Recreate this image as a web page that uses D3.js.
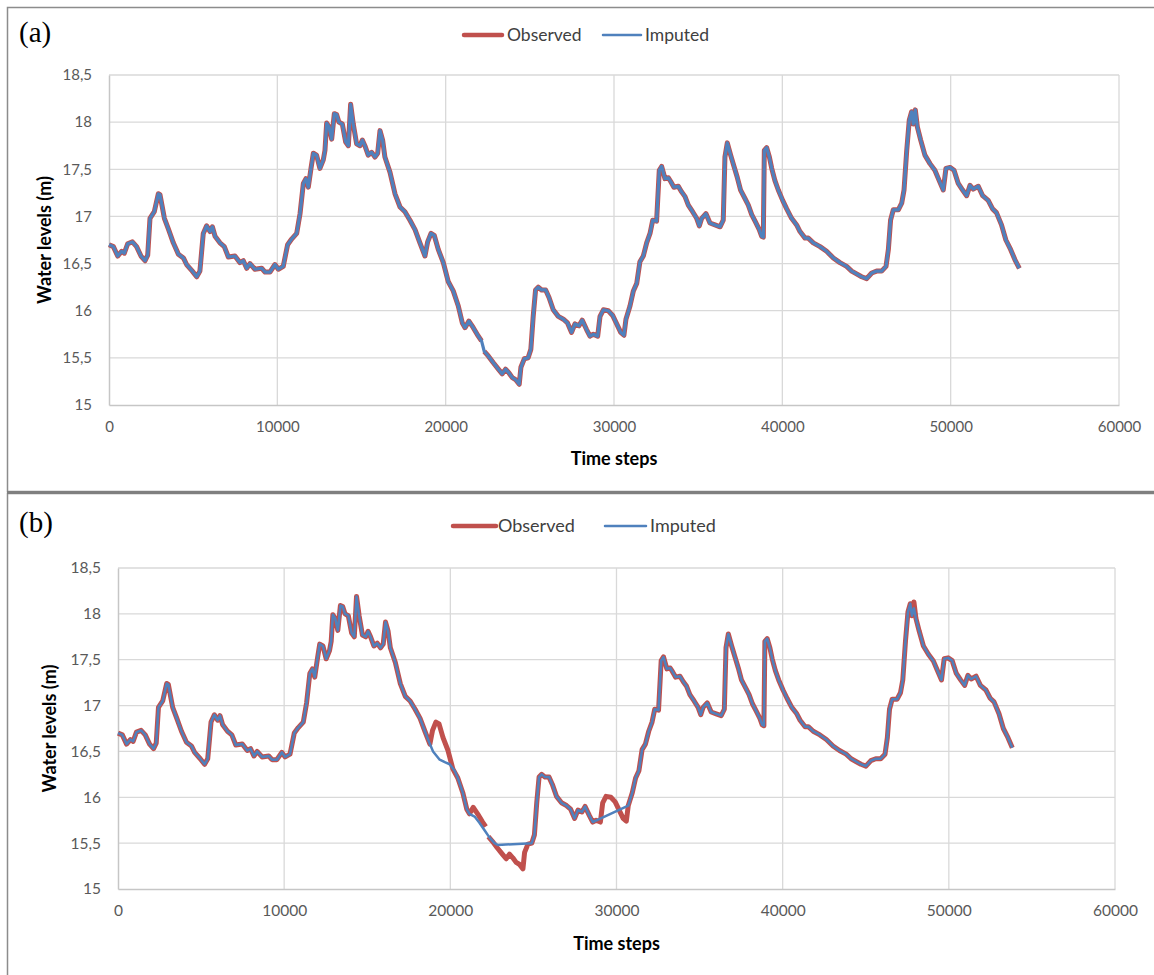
<!DOCTYPE html>
<html>
<head>
<meta charset="utf-8">
<script src="https://cdn.jsdelivr.net/npm/d3@7"></script>
<style>
  body { margin: 0; background: #fff; }
  .tick text { font-family: Lato, "Open Sans", sans-serif; fill: #595959; }
  .axisTitle { font-family: Lato, "Open Sans", sans-serif; font-weight: bold; fill: #000; }
  .legendText { font-family: Lato, "Open Sans", sans-serif; fill: #404040; }
  .panelTag { font-family: "Liberation Serif", "DejaVu Serif", serif; fill: #000; }
</style>
</head>
<body>
<div id="chart"></div>
<script>
// Water level series (time step, metres)
var steps = [0, 260, 515, 750, 910, 1110, 1390, 1640, 1900, 2140, 2300, 2435, 2690, 2930, 3030, 3290, 3520, 3820, 4120, 4420,
  4610, 4950, 5210, 5400, 5600, 5800, 6000, 6140, 6300, 6590, 6850, 7090, 7480, 7780, 7980, 8180, 8375, 8670, 9070, 9270,
  9560, 9860, 10060, 10350, 10610, 10850, 11150, 11350, 11545, 11700, 11840, 12000, 12140, 12330, 12530, 12730, 12830, 12930, 13070, 13230,
  13385, 13520, 13660, 13860, 14060, 14220, 14355, 14510, 14710, 14910, 15050, 15200, 15400, 15600, 15800, 15960, 16100, 16255, 16390, 16690,
  16990, 17290, 17580, 17880, 18180, 18470, 18770, 18930, 19130, 19320, 19560, 19860, 20150, 20450, 20750, 20990, 21150, 21380, 21640, 21940,
  22130, 22210, 22290, 22530, 22820, 23130, 23360, 23560, 23760, 23960, 24150, 24370, 24470, 24670, 24900, 25060, 25200, 25340, 25500, 25700,
  25940, 26140, 26390, 26690, 26990, 27240, 27480, 27680, 27920, 28110, 28370, 28570, 28770, 29030, 29170, 29370, 29660, 29920, 30160, 30400,
  30590, 30710, 30950, 31150, 31350, 31540, 31740, 31940, 32140, 32300, 32530, 32690, 32830, 33030, 33230, 33370, 33560, 33820, 34020, 34220,
  34415, 34670, 34910, 35070, 35210, 35460, 35700, 36000, 36300, 36490, 36590, 36730, 36930, 37130, 37330, 37520, 37780, 37980, 38180, 38380,
  38630, 38770, 38870, 38930, 39070, 39230, 39370, 39560, 39760, 40020, 40260, 40550, 40850, 41050, 41350, 41540, 41840, 42240, 42630, 43030,
  43420, 43820, 44120, 44410, 44710, 45010, 45310, 45600, 45900, 46160, 46300, 46430, 46590, 46890, 47090, 47230, 47390, 47540, 47680, 47780,
  47900, 48020, 48220, 48470, 48770, 49060, 49320, 49560, 49720, 49960, 50200, 50450, 50710, 50950, 51150, 51340, 51640, 51900, 52230, 52490,
  52720, 53020, 53280, 53560, 53820, 54080];

var observed = [16.70, 16.68, 16.58, 16.63, 16.61, 16.71, 16.73, 16.68, 16.58, 16.53, 16.59, 16.98, 17.05, 17.24, 17.23, 16.98, 16.87, 16.72, 16.60, 16.56,
  16.49, 16.42, 16.36, 16.42, 16.82, 16.90, 16.84, 16.89, 16.79, 16.72, 16.68, 16.57, 16.58, 16.51, 16.53, 16.45, 16.50, 16.44, 16.45, 16.41,
  16.41, 16.49, 16.44, 16.47, 16.70, 16.76, 16.82, 17.03, 17.35, 17.40, 17.31, 17.51, 17.67, 17.65, 17.51, 17.60, 17.70, 17.99, 17.95, 17.82,
  18.09, 18.08, 18.00, 17.98, 17.79, 17.75, 18.19, 17.98, 17.77, 17.75, 17.81, 17.75, 17.65, 17.68, 17.63, 17.67, 17.91, 17.81, 17.63, 17.47,
  17.24, 17.10, 17.05, 16.96, 16.86, 16.72, 16.58, 16.73, 16.82, 16.80, 16.65, 16.51, 16.31, 16.21, 16.05, 15.87, 15.82, 15.89, 15.82, 15.73,
  15.68, null, 15.57, 15.52, 15.45, 15.38, 15.33, 15.38, 15.34, 15.29, 15.27, 15.22, 15.40, 15.49, 15.50, 15.59, 15.94, 16.22, 16.25, 16.22,
  16.22, 16.14, 16.01, 15.94, 15.91, 15.87, 15.77, 15.86, 15.84, 15.90, 15.80, 15.73, 15.75, 15.73, 15.94, 16.01, 16.00, 15.95, 15.86, 15.77,
  15.74, 15.91, 16.05, 16.21, 16.29, 16.52, 16.58, 16.72, 16.82, 16.96, 16.95, 17.49, 17.53, 17.40, 17.41, 17.37, 17.31, 17.32, 17.26, 17.21,
  17.12, 17.05, 16.98, 16.90, 16.98, 17.03, 16.93, 16.91, 16.89, 16.96, 17.63, 17.78, 17.65, 17.53, 17.41, 17.28, 17.19, 17.12, 17.02, 16.95,
  16.86, 16.79, 16.78, 17.70, 17.73, 17.63, 17.51, 17.38, 17.28, 17.17, 17.08, 16.98, 16.91, 16.84, 16.77, 16.77, 16.72, 16.68, 16.63, 16.56,
  16.51, 16.47, 16.42, 16.39, 16.36, 16.34, 16.40, 16.42, 16.42, 16.47, 16.65, 16.96, 17.07, 17.07, 17.14, 17.28, 17.70, 18.02, 18.11, 17.98,
  18.13, 17.95, 17.81, 17.65, 17.56, 17.49, 17.38, 17.28, 17.51, 17.52, 17.49, 17.35, 17.28, 17.22, 17.33, 17.29, 17.32, 17.22, 17.17, 17.08,
  17.04, 16.91, 16.75, 16.65, 16.54, 16.45];

// panel (b): stretches where the imputed curve leaves the observed one
var lastStepB = 53820;
var gapRangesB = [[18770, 20450], [21150, 24900], [28570, 30710], [47780, 48020]];
var gapStepsB = [18960, 19360, 19700, 19960, 20260, 21460, 21760, 22060, 22360, 22660, 22860, 47900];
var gapValuesB = [16.50, 16.41, 16.38, 16.36, 16.29, 15.79, 15.72, 15.64, 15.56, 15.50, 15.48, 18.06];

// axis ticks
var xTicks = [0, 10000, 20000, 30000, 40000, 50000, 60000];
var yTicks = [15, 15.5, 16, 16.5, 17, 17.5, 18, 18.5];

// 1. build point lists
var obsPoints = steps.map((t, i) => ({ t: t, v: observed[i] }));
var impA = obsPoints.filter(d => d.v != null);

var inGap = t => gapRangesB.some(r => t > r[0] && t < r[1]);
var obsB = obsPoints.filter(d => d.t <= lastStepB);
var impB = obsB.filter(d => d.v != null && !inGap(d.t))
  .concat(gapStepsB.map((t, i) => ({ t: t, v: gapValuesB[i] })))
  .sort((a, b) => a.t - b.t);

// 2. svg
var svgWidth = 1154;
var svgHeight = 975;

var svg = d3.select('#chart')
  .append('svg')
  .attr('width', svgWidth)
  .attr('height', svgHeight);

// outer frames of the two figure parts
svg.append('rect')
  .attr('x', 7.5).attr('y', 7.5)
  .attr('width', 1160).attr('height', 484)
  .attr('fill', 'none').attr('stroke', '#8c8c8c').attr('stroke-width', 1.5);
svg.append('rect')
  .attr('x', 7.5).attr('y', 493.5)
  .attr('width', 1160).attr('height', 500)
  .attr('fill', 'none').attr('stroke', '#8c8c8c').attr('stroke-width', 1.5);
svg.append('line')
  .attr('x1', 7).attr('x2', 1154).attr('y1', 492.5).attr('y2', 492.5)
  .attr('stroke', '#7f7f7f').attr('stroke-width', 3);

// 3. one panel
function drawPanel(p) {
  var xScale = d3.scaleLinear().domain([0, 60000]).range([p.left, p.right]);
  var yScale = d3.scaleLinear().domain([15, 18.5]).range([p.bottom, p.top]);

  var g = svg.append('g');

  // gridlines
  g.append('g')
    .selectAll('line.vgrid')
    .data(xTicks.slice(1))
    .enter()
    .append('line')
    .attr('x1', d => xScale(d)).attr('x2', d => xScale(d))
    .attr('y1', p.top).attr('y2', p.bottom)
    .attr('stroke', '#d9d9d9').attr('stroke-width', 1.3);

  g.append('g')
    .selectAll('line.hgrid')
    .data(yTicks.slice(1))
    .enter()
    .append('line')
    .attr('x1', p.left).attr('x2', p.right)
    .attr('y1', d => yScale(d)).attr('y2', d => yScale(d))
    .attr('stroke', '#d9d9d9').attr('stroke-width', 1.3);

  // axes
  var bottomAxis = d3.axisBottom(xScale)
    .tickValues(xTicks)
    .tickSize(0)
    .tickPadding(p.xPad)
    .tickFormat(d3.format('d'));
  var leftAxis = d3.axisLeft(yScale)
    .tickValues(yTicks)
    .tickSize(0)
    .tickPadding(p.yPad)
    .tickFormat(d => String(d).replace('.', ','));

  var xAxis = g.append('g')
    .attr('transform', `translate(0, ${p.bottom})`)
    .call(bottomAxis);
  xAxis.select('.domain').attr('stroke', '#c6c6c6').attr('stroke-width', 1.5);
  xAxis.selectAll('text').attr('font-size', p.tickSize + 'px');

  var yAxis = g.append('g')
    .attr('transform', `translate(${p.left}, 0)`)
    .call(leftAxis);
  yAxis.select('.domain').attr('stroke', '#c6c6c6').attr('stroke-width', 1.5);
  yAxis.selectAll('text').attr('font-size', p.tickSize + 'px');

  // lines
  var line = d3.line()
    .defined(d => d.v != null)
    .x(d => xScale(d.t))
    .y(d => yScale(d.v));

  g.append('path')
    .datum(p.obs)
    .attr('fill', 'none')
    .attr('stroke', '#c0504d')
    .attr('stroke-width', p.obsWidth)
    .attr('stroke-linejoin', 'round')
    .attr('d', line);

  g.append('path')
    .datum(p.imp)
    .attr('fill', 'none')
    .attr('stroke', '#4f81bd')
    .attr('stroke-width', p.impWidth)
    .attr('stroke-linejoin', 'round')
    .attr('d', line);

  // axis titles
  g.append('text')
    .classed('axisTitle', true)
    .attr('transform', `translate(${p.yTitleX}, ${(p.top + p.bottom) / 2}) rotate(-90)`)
    .attr('text-anchor', 'middle')
    .attr('font-size', '18px')
    .text('Water levels (m)');

  g.append('text')
    .classed('axisTitle', true)
    .attr('x', (p.left + p.right) / 2)
    .attr('y', p.xTitleY)
    .attr('text-anchor', 'middle')
    .attr('font-size', '18px')
    .text('Time steps');

  // legend
  var lg = g.append('g');
  lg.append('line')
    .attr('x1', p.legend[0]).attr('x2', p.legend[1])
    .attr('y1', p.legendY).attr('y2', p.legendY)
    .attr('stroke', '#c0504d').attr('stroke-width', 4.5).attr('stroke-linecap', 'round');
  lg.append('text')
    .classed('legendText', true)
    .attr('x', p.legend[2]).attr('y', p.legendY + 6)
    .attr('font-size', p.legendSize + 'px')
    .text('Observed');
  lg.append('line')
    .attr('x1', p.legend[3]).attr('x2', p.legend[4])
    .attr('y1', p.legendY).attr('y2', p.legendY)
    .attr('stroke', '#4f81bd').attr('stroke-width', 2.5).attr('stroke-linecap', 'round');
  lg.append('text')
    .classed('legendText', true)
    .attr('x', p.legend[5]).attr('y', p.legendY + 6)
    .attr('font-size', p.legendSize + 'px')
    .text('Imputed');

  // panel tag
  g.append('text')
    .classed('panelTag', true)
    .attr('x', p.tagX).attr('y', p.tagY)
    .attr('font-size', '29px')
    .text(p.tag);
}

drawPanel({
  left: 109, right: 1119, top: 75, bottom: 405,
  obs: obsPoints, imp: impA, obsWidth: 5, impWidth: 3.2,
  xPad: 16, yPad: 17, tickSize: 15,
  yTitleX: 51, xTitleY: 465,
  legend: [464, 502, 507, 603, 641, 645], legendY: 35, legendSize: 17.5,
  tag: '(a)', tagX: 19, tagY: 42
});

drawPanel({
  left: 118, right: 1115, top: 568, bottom: 889,
  obs: obsB, imp: impB, obsWidth: 5, impWidth: 2.5,
  xPad: 16, yPad: 17, tickSize: 15.5,
  yTitleX: 56, xTitleY: 950,
  legend: [453, 496, 498, 605, 646, 650], legendY: 526, legendSize: 18,
  tag: '(b)', tagX: 19, tagY: 532
});
</script>
</body>
</html>
